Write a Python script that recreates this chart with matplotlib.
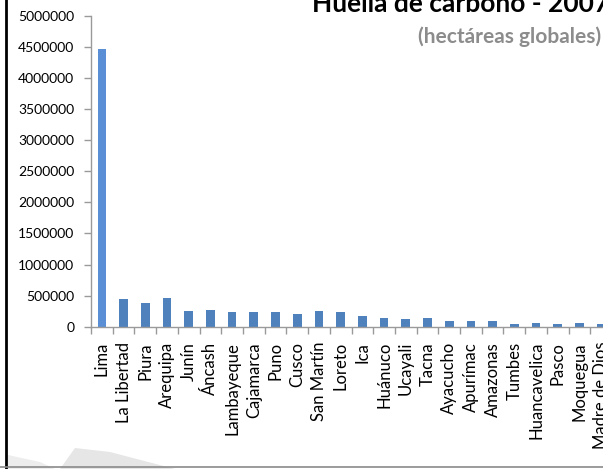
import matplotlib
matplotlib.use("Agg")
import matplotlib.pyplot as plt
from matplotlib.lines import Line2D
from matplotlib.patches import Polygon
from matplotlib.ticker import FixedLocator, NullFormatter

plt.rcParams['font.family'] = ['Lato', 'DejaVu Sans']

regions = ["Lima", "La Libertad", "Piura", "Arequipa", "Junín", "Áncash",
           "Lambayeque", "Cajamarca", "Puno", "Cusco", "San Martín", "Loreto",
           "Ica", "Huánuco", "Ucayali", "Tacna", "Ayacucho", "Apurímac",
           "Amazonas", "Tumbes", "Huancavelica", "Pasco", "Moquegua",
           "Madre de Dios"]
values = [4470000, 441000, 377000, 462000, 253000, 269000,
          232000, 232000, 232000, 209000, 253000, 232000,
          172000, 145000, 124000, 145000, 87000, 87000,
          87000, 43000, 64000, 43000, 64000, 43000]
yticks = [0, 500000, 1000000, 1500000, 2000000, 2500000, 3000000,
          3500000, 4000000, 4500000, 5000000]

W, H = 603, 469
fig = plt.figure(figsize=(W / 100, H / 100), dpi=100)
fig.patch.set_facecolor("white")

# faint background watermark near the bottom-left
fig.add_artist(Polygon([(60 / W, 1 - 469 / H), (75 / W, 1 - 448 / H),
                        (110 / W, 1 - 452 / H), (175 / W, 1 - 469 / H)],
                       closed=True, transform=fig.transFigure,
                       facecolor="#E6E6E6", edgecolor="none", zorder=0))
fig.add_artist(Polygon([(8 / W, 1 - 469 / H), (8 / W, 1 - 455 / H),
                        (40 / W, 1 - 462 / H), (55 / W, 1 - 469 / H)],
                       closed=True, transform=fig.transFigure,
                       facecolor="#EDEDED", edgecolor="none", zorder=0))

left, right = 91 / W, 612 / W
bottom, top = (H - 326.7) / H, (H - 16) / H
ax = fig.add_axes([left, bottom, right - left, top - bottom])
ax.set_facecolor("none")

x = list(range(len(regions)))
colors = ["#5A8FD6"] + ["#4F81BD"] * (len(regions) - 1)
ax.bar(x, values, width=0.4, color=colors, zorder=2)

ax.set_xlim(-0.5, len(regions) - 0.5)
ax.set_ylim(0, 5000000)
ax.set_yticks(yticks)
ax.set_yticklabels([str(v) for v in yticks])

ax.set_xticks(x)
ax.set_xticklabels(regions, rotation=90, fontsize=12, color="black")
ax.xaxis.set_minor_locator(FixedLocator([i - 0.5 for i in range(len(regions) + 1)]))
ax.xaxis.set_minor_formatter(NullFormatter())
ax.tick_params(axis="x", which="major", length=0, pad=11)
ax.tick_params(axis="x", which="minor", length=5, width=1, color="#9A9A9A")
ax.tick_params(axis="y", length=5, width=1, color="#9A9A9A", pad=7,
               labelsize=10, labelcolor="black")

for s in ["top", "right"]:
    ax.spines[s].set_visible(False)
for s in ["left", "bottom"]:
    ax.spines[s].set_color("#9A9A9A")
    ax.spines[s].set_linewidth(1)

fig.text(312 / W, 1 - 12 / H, "Huella de carbono - 2007", fontsize=19,
         fontweight="bold", color="black", ha="left", va="baseline")
fig.text(418 / W, 1 - 43 / H, "(hectáreas globales)", fontsize=15,
         fontweight="bold", color="#8C8C8C", ha="left", va="baseline")

# chart-area frame edges
fig.add_artist(Line2D([6 / W, 6 / W], [0, 1], transform=fig.transFigure,
                      color="black", linewidth=2))
fig.add_artist(Line2D([0, 1], [2.5 / H, 2.5 / H], transform=fig.transFigure,
                      color="#8A8A8A", linewidth=1.2))

fig.savefig("out.png", dpi=100)
